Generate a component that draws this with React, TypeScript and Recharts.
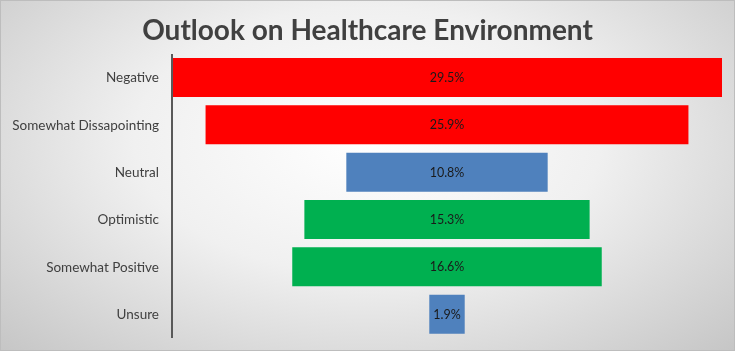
import { BarChart, Bar, XAxis, YAxis, Cell, LabelList } from 'recharts'

const categories = ['Negative', 'Somewhat Dissapointing', 'Neutral', 'Optimistic', 'Somewhat Positive', 'Unsure']
const values = [29.5, 25.9, 10.8, 15.3, 16.6, 1.9]
const barColors = ['#FF0000', '#FF0000', '#4F81BD', '#00B050', '#00B050', '#4F81BD']

const maxValue = Math.max(...values)
const data = categories.map((name, i) => ({
  name,
  pad: (maxValue - values[i]) / 2,
  value: values[i],
}))

const font = 'Lato, "Open Sans", sans-serif'

export default function App() {
  return (
    <div
      style={{
        position: 'fixed', left: 0, top: 0, width: 735, height: 351,
        boxSizing: 'border-box', border: '1px solid #bdbdbd',
        background: 'radial-gradient(ellipse at 50% 40%, #ffffff 0%, #f0f0f0 45%, #c6c6c6 100%)',
        fontFamily: font,
      }}
    >
      <div
        style={{
          position: 'absolute', left: 0, top: 10, width: 733, textAlign: 'center',
          fontSize: 28, fontWeight: 700, color: '#404040', lineHeight: '36px',
        }}
      >
        Outlook on Healthcare Environment
      </div>
      <BarChart
        layout="vertical"
        width={733}
        height={349}
        data={data}
        margin={{ top: 53, right: 12, bottom: 12, left: 0 }}
        barCategoryGap="8.5%"
        style={{ position: 'absolute', left: 0, top: 0 }}
      >
        <XAxis type="number" hide domain={[0, maxValue]} />
        <YAxis
          type="category"
          dataKey="name"
          width={171}
          axisLine={{ stroke: '#595959', strokeWidth: 2 }}
          tickLine={false}
          tickMargin={7}
          tick={{ fontSize: 13.5, fill: '#404040', fontFamily: font }}
        />
        <Bar dataKey="pad" stackId="a" fill="transparent" isAnimationActive={false} />
        <Bar dataKey="value" stackId="a" isAnimationActive={false}>
          {data.map((d, i) => <Cell key={d.name} fill={barColors[i]} />)}
          <LabelList
            dataKey="value"
            position="center"
            formatter={(v: number) => `${v}%`}
            style={{ fontSize: 12.5, fill: '#1a1a1a', fontFamily: font }}
          />
        </Bar>
      </BarChart>
    </div>
  )
}
